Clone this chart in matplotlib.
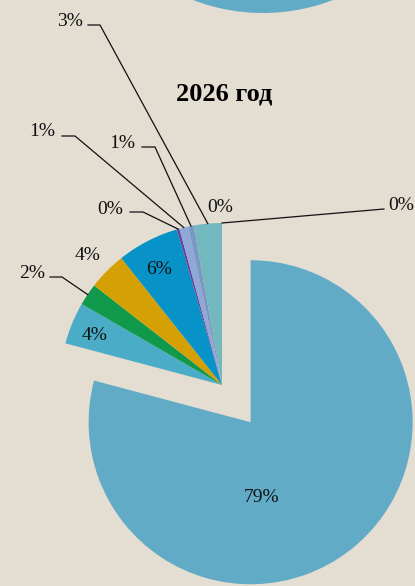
import numpy as np
import matplotlib.pyplot as plt
from matplotlib.patches import Circle

# shares for 2026 (percent)
shares = [79.3, 4.2, 2.2, 3.8, 6.2, 0.25, 0.9, 0.55, 2.8, 0.0, 0.0]
colors = ['#62abc6', '#4aacc6', '#10994a', '#d4a004', '#0893c8', '#6a3d9a',
          '#90a8d8', '#7b97c4', '#74b8bf', '#74b8bf', '#74b8bf']
title = '2026 год'

# label placement in pixels (text centre) and leader start (None = no leader)
label_px = [(262, 498), (95, 336), (32, 273), (88, 255), (159, 270), (110, 209),
            (42, 131), (122, 143), (70, 21), (220, 208), (401, 205)]
leader_px = [None, None, [(50, 277), (62, 277)], None, None, [(130, 212), (143, 212)],
             [(62, 136), (75, 136)], [(142, 147), (155, 147)], [(88, 25), (100, 25)],
             None, [(384, 209)]]

W, H = 415, 586
cx, cy, R = 222, 385, 162   # pie centre / radius in pixels


def to_data(p):
    return ((p[0] - cx) / R, (cy - p[1]) / R)


bg = '#e3ddd2'
fig = plt.figure(figsize=(W / 100, H / 100), dpi=100, facecolor=bg)
ax = fig.add_axes([0, 0, 1, 1])
ax.set_facecolor(bg)

explode = [0.29] + [0] * (len(shares) - 1)
wedges, _ = ax.pie(shares, colors=colors, startangle=90, counterclock=False,
                   explode=explode, radius=1, wedgeprops=dict(linewidth=0))

ax.set_xlim(-cx / R, (W - cx) / R)
ax.set_ylim(-(H - cy) / R, cy / R)
ax.set_aspect('equal')
ax.axis('off')

# bottom of the previous year's pie, cut off at the top edge
ax.add_patch(Circle(to_data((263, -182)), 195 / R, color='#62abc6', lw=0))

fs = 14
for i, (w, v) in enumerate(zip(wedges, shares)):
    tx, ty = to_data(label_px[i])
    ax.text(tx, ty, f'{round(v):.0f}%', ha='center', va='center', fontsize=fs,
            family='Liberation Serif', color='#111111')
    if leader_px[i] is not None:
        mid = np.deg2rad((w.theta1 + w.theta2) / 2)
        pts = [to_data(p) for p in leader_px[i]] + [(np.cos(mid), np.sin(mid))]
        xs, ys = zip(*pts)
        ax.plot(xs, ys, color='#111111', lw=0.9)

tx, ty = to_data((224, 94))
ax.text(tx, ty, title, ha='center', va='center', fontsize=19, fontweight='bold',
        family='Liberation Serif', color='black')

fig.savefig('out.png', dpi=100, facecolor=bg)
